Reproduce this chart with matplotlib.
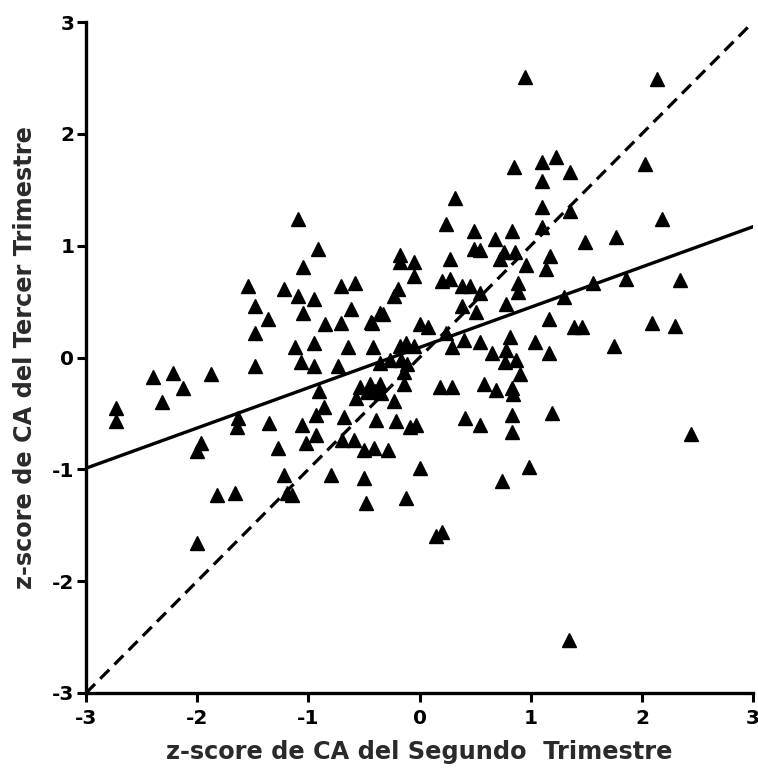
import numpy as np
import matplotlib
matplotlib.use("Agg")
import matplotlib.pyplot as plt

plt.rcParams['font.family'] = ['DejaVu Sans']
plt.rcParams['font.weight'] = 'bold'

# z-scores: second trimester (x) vs third trimester (y)
z_segundo = [
    -2.73, -2.73, -2.40, -2.32, -2.22, -2.13, -1.88, -1.97, -2.00, -2.00,
    -1.82, -1.66, -1.63, -1.64, -1.54, -1.48, -1.36, -1.48, -1.48, -1.35,
    -1.27, -1.22, -1.15, -1.19, -1.22, -1.09, -0.91, -1.05, -1.09, -0.95,
    -1.05, -0.85, -1.12, -0.95, -1.07, -0.95, -1.06, -1.02, -0.93, -0.93,
    -0.86, -0.90, -0.80, -0.71, -0.58, -0.62, -0.71, -0.44, -0.64, -0.42,
    -0.73, -0.68, -0.70, -0.59, -0.50, -0.41, -0.28, -0.50, -0.48, -0.12,
    0.00, -0.57, -0.54, -0.45, -0.36, -0.39, -0.21, -0.23, -0.14, -0.09,
    -0.03, -0.36, -0.43, -0.33, -0.36, -0.27, -0.18, -0.18, -0.05, -0.05,
    -0.19, -0.23, 0.00, -0.18, -0.12, -0.05, -0.17, -0.11, -0.14, -0.47,
    -0.40, -0.35,
    0.95, 2.14, 2.03, 2.18, 0.85, 1.10, 1.23, 1.35, 1.10, 0.32,
    1.10, 1.35, 0.24, 0.49, 0.68, 0.83, 1.10, 1.49, 1.77, 0.49,
    0.54, 0.76, 0.72, 0.86, 0.96, 1.17, 1.14, 0.27, 0.20, 0.27,
    0.38, 0.45, 0.54, 0.89, 0.89, 0.78, 0.38, 0.51, 1.30, 1.56,
    1.86, 2.34, 1.16, 1.39, 1.46, 2.09, 2.30, 1.75, 0.08, 0.24,
    0.29, 0.40, 0.54, 0.65, 0.81, 0.78, 1.04, 1.16, 0.77, 0.87,
    0.90, 0.18, 0.29, 0.58, 0.69, 0.83, 0.84, 0.41, 0.54, 0.83,
    1.19, 0.83, 0.98, 0.74, 0.20, 0.15, 1.34, 2.44,
]
z_tercer = [
    -0.45, -0.57, -0.17, -0.40, -0.14, -0.27, -0.15, -0.76, -0.84, -1.66,
    -1.23, -1.21, -0.54, -0.62, 0.64, 0.46, 0.34, 0.22, -0.08, -0.59,
    -0.81, -1.05, -1.23, -1.21, 0.61, 1.24, 0.97, 0.81, 0.55, 0.52,
    0.40, 0.30, 0.09, 0.13, -0.04, -0.08, -0.60, -0.76, -0.69, -0.51,
    -0.44, -0.30, -1.05, 0.64, 0.67, 0.43, 0.31, 0.32, 0.09, 0.09,
    -0.08, -0.53, -0.74, -0.74, -0.83, -0.81, -0.83, -1.08, -1.30, -1.26,
    -0.99, -0.36, -0.26, -0.24, -0.24, -0.56, -0.57, -0.39, -0.24, -0.62,
    -0.60, 0.40, 0.31, 0.39, -0.05, -0.02, 0.92, 0.85, 0.85, 0.73,
    0.61, 0.55, 0.30, 0.10, 0.13, 0.10, -0.02, -0.06, -0.13, -0.31,
    -0.30, -0.32,
    2.51, 2.49, 1.73, 1.24, 1.70, 1.75, 1.79, 1.66, 1.58, 1.43,
    1.35, 1.31, 1.19, 1.13, 1.06, 1.13, 1.17, 1.03, 1.08, 0.97,
    0.96, 0.94, 0.88, 0.94, 0.83, 0.91, 0.79, 0.88, 0.68, 0.70,
    0.64, 0.64, 0.58, 0.67, 0.59, 0.48, 0.46, 0.41, 0.54, 0.67,
    0.70, 0.69, 0.34, 0.27, 0.27, 0.31, 0.28, 0.10, 0.27, 0.22,
    0.09, 0.16, 0.14, 0.04, 0.18, 0.07, 0.14, 0.04, -0.04, -0.02,
    -0.15, -0.26, -0.26, -0.24, -0.29, -0.27, -0.33, -0.54, -0.60, -0.51,
    -0.50, -0.67, -0.98, -1.10, -1.56, -1.60, -2.53, -0.68,
]

# fitted regression and identity line
reg_intercept = 0.09
reg_slope = 0.36
ticks = [-3, -2, -1, 0, 1, 2, 3]

fig = plt.figure(figsize=(7.58, 7.73), dpi=100)
ax = fig.add_axes([0.1135, 0.1035, 0.88, 0.868])

xl = np.array([-3, 3])
ax.plot(xl, xl, color='black', lw=2.3, ls=(0, (4, 2.3)), zorder=2)
ax.plot(xl, reg_intercept + reg_slope * xl, color='black', lw=2.4, zorder=2)
ax.plot(z_segundo, z_tercer, ls='none', marker='^', ms=10.5,
        color='black', zorder=3, clip_on=False)

ax.set_xlim(-3, 3)
ax.set_ylim(-3, 3)
ax.set_xticks(ticks)
ax.set_yticks(ticks)
ax.set_xticklabels([str(t) for t in ticks])
ax.set_yticklabels([str(t) for t in ticks])

for side in ['top', 'right']:
    ax.spines[side].set_visible(False)
for side in ['left', 'bottom']:
    ax.spines[side].set_linewidth(2.4)
ax.tick_params(direction='out', length=6.5, width=2.2, labelsize=14.5)
ax.tick_params(axis='x', pad=5)
ax.tick_params(axis='y', pad=2)

ax.set_xlabel('z-score de CA del Segundo  Trimestre', fontsize=17.3,
              fontweight='bold', color='#2a2a2a', labelpad=9)
ax.set_ylabel('z-score de CA del Tercer Trimestre', fontsize=17.3,
              fontweight='bold', color='#2a2a2a', labelpad=11)

fig.savefig('out.png', dpi=100)
